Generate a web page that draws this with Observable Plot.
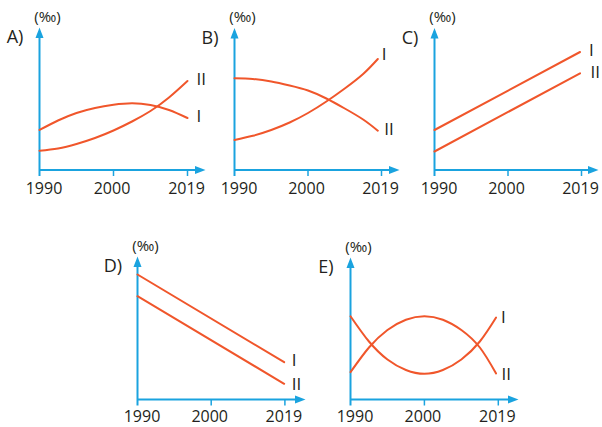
<!DOCTYPE html>
<html>
<head>
<meta charset="utf-8">
<script src="https://cdn.jsdelivr.net/npm/d3@7"></script>
<script src="https://cdn.jsdelivr.net/npm/@observablehq/plot@0.6"></script>
<style>
  body { margin: 0; background: #fff; }
  #chart { position: relative; width: 602px; height: 427px; overflow: hidden; background: #fff; }
  #chart svg { position: absolute; left: 0; top: 0; }
</style>
</head>
<body>
<div id="chart"></div>
<script>
// ---- data ----
const tickLabels = ["1990", "2000", "2019"];
const tickPos = [0, 1, 2];
const seriesNames = ["I", "II"];
const panelLetters = ["A)", "B)", "C)", "D)", "E)"];
const unitLabel = "(‰)";

const xA = [0, 0.25, 0.5, 0.75, 1, 1.25, 1.5, 1.75, 2];
const A_I = [4.0, 4.95, 5.7, 6.2, 6.52, 6.67, 6.5, 6.0, 5.2];
const A_II = [1.93, 2.15, 2.6, 3.2, 3.95, 4.85, 5.9, 7.25, 8.9];

const xB = [0, 0.25, 0.5, 0.75, 1, 1.25, 1.5, 1.75, 1.95];
const B_I = [3.0, 3.42, 4.0, 4.75, 5.7, 6.85, 8.15, 9.6, 11.1];
const B_II = [9.17, 9.1, 8.85, 8.45, 7.95, 7.15, 6.15, 5.05, 3.93];

const xC = [0, 1.98];
const C_I = [4.0, 11.8];
const C_II = [1.85, 9.67];

const xD = [0, 1.99];
const D_I = [12.5, 3.73];
const D_II = [10.33, 1.57];

const xE = [0, 0.25, 0.5, 0.75, 1, 1.25, 1.5, 1.75, 1.97];
const E_I = [8.33, 5.8, 4.0, 2.95, 2.57, 2.95, 4.0, 5.8, 8.2];
const E_II = [2.73, 5.2, 6.95, 7.98, 8.33, 7.98, 6.95, 5.2, 2.6];

// ---- styling / layout ----
const AXIS = "#1aa3df";
const LINE = "#f0562b";
const INK = "#231f20";
const FONT = "'Open Sans', 'Liberation Sans', Arial, sans-serif";
const tickDx = [4.5, -1.5, -1];

const panels = [
  {letter: panelLetters[0], xs: xA, ys: [A_I, A_II], ox: 39, oy: 169.5, ux: 74, xtip: 205, ytop: 27, tickDy: 18.5,
   lab: [[9, -1.5], [9, -1]]},
  {letter: panelLetters[1], xs: xB, ys: [B_I, B_II], ox: 234, oy: 169.5, ux: 73.5, xtip: 399, ytop: 27.5, tickDy: 18.5,
   lab: [[4, -4], [6.5, -1.5]]},
  {letter: panelLetters[2], xs: xC, ys: [C_I, C_II], ox: 434, oy: 169.5, ux: 73.5, xtip: 598, ytop: 27.5, tickDy: 18.5,
   lab: [[9, -1.5], [10.5, -1]]},
  {letter: panelLetters[3], xs: xD, ys: [D_I, D_II], ox: 137, oy: 399, ux: 73.7, xtip: 305, ytop: 256, tickDy: 17.3,
   lab: [[7.5, -2], [7.5, 1]]},
  {letter: panelLetters[4], xs: xE, ys: [E_I, E_II], ox: 350, oy: 399, ux: 73.9, xtip: 518, ytop: 257, tickDy: 17.3,
   lab: [[5, 0], [5.5, 1]]}
];

const arrowUp = {draw(ctx) { ctx.moveTo(0, 0); ctx.lineTo(4, 10.5); ctx.lineTo(-4, 10.5); ctx.closePath(); }};
const arrowRight = {draw(ctx) { ctx.moveTo(0, 0); ctx.lineTo(-10.5, 4); ctx.lineTo(-10.5, -4); ctx.closePath(); }};

const W = 602, H = 427;
const chart = document.getElementById("chart");

for (const p of panels) {
  const xmax = (p.xtip - p.ox) / p.ux;
  const ymax = (p.oy - p.ytop) / 10;
  const pxX = 1 / p.ux;
  const pxY = 1 / 10;

  const rows = [];
  p.ys.forEach((vals, s) => vals.forEach((v, i) => rows.push({x: p.xs[i], y: v, series: seriesNames[s]})));

  const marks = [
    Plot.ruleY([0], {x1: 0, x2: xmax - 4 * pxX, stroke: AXIS, strokeWidth: 2}),
    Plot.dot([0], {x: xmax, y: 0, symbol: arrowRight, fill: AXIS, stroke: "none", r: 5}),
    Plot.ruleX([0], {y1: -6.5 * pxY, y2: ymax - 4 * pxY, stroke: AXIS, strokeWidth: 2}),
    Plot.dot([0], {x: 0, y: ymax, symbol: arrowUp, fill: AXIS, stroke: "none", r: 5}),
    Plot.ruleX(tickPos.slice(1), {y1: 0, y2: -6.5 * pxY, stroke: AXIS, strokeWidth: 1.5}),
    Plot.line(rows, {x: "x", y: "y", z: "series", stroke: LINE, strokeWidth: 2, curve: "natural"}),
    Plot.text([p.letter], {frameAnchor: "top-left", text: d => d, dx: -24.5, dy: 10, fontSize: 18,
      fill: INK, fontFamily: FONT, textAnchor: "middle", lineAnchor: "middle"}),
    Plot.text([unitLabel], {frameAnchor: "top-left", text: d => d, dx: 8, dy: -10.5, fontSize: 15,
      fill: INK, fontFamily: FONT, textAnchor: "middle", lineAnchor: "middle"})
  ];
  tickPos.forEach((t, i) => {
    marks.push(Plot.text([tickLabels[i]], {x: t, y: 0, text: d => d, dx: tickDx[i], dy: p.tickDy, fontSize: 16,
      fill: INK, fontFamily: FONT, textAnchor: "middle", lineAnchor: "middle"}));
  });
  p.ys.forEach((vals, s) => {
    marks.push(Plot.text([seriesNames[s]], {
      x: p.xs[p.xs.length - 1], y: vals[vals.length - 1], text: d => d,
      dx: p.lab[s][0], dy: p.lab[s][1], textAnchor: "start", lineAnchor: "middle",
      fontSize: 17, fill: INK, fontFamily: FONT
    }));
  });

  const svg = Plot.plot({
    width: W, height: H,
    marginLeft: p.ox, marginRight: W - p.xtip,
    marginTop: p.ytop, marginBottom: H - p.oy,
    x: {domain: [0, xmax], axis: null},
    y: {domain: [0, ymax], axis: null},
    style: {background: "transparent", fontFamily: FONT, overflow: "visible"},
    marks
  });
  chart.appendChild(svg);
}
</script>
</body>
</html>
